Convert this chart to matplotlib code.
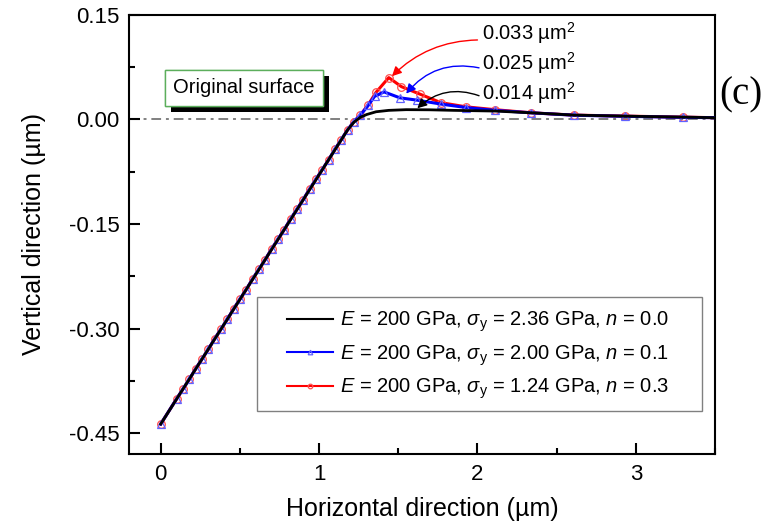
import matplotlib
matplotlib.use("Agg")
import matplotlib.pyplot as plt
from matplotlib import patheffects
from matplotlib.patches import Rectangle
from matplotlib.ticker import MultipleLocator

plt.rcParams['font.family'] = ['Liberation Sans', 'DejaVu Sans']
plt.rcParams['mathtext.fontset'] = 'custom'
plt.rcParams['mathtext.rm'] = 'Liberation Sans'
plt.rcParams['mathtext.it'] = 'Liberation Sans:italic'
plt.rcParams['mathtext.bf'] = 'Liberation Sans:bold'

# ---- data (µm) ----
lin_x = [0.00, 0.10, 0.14, 0.18, 0.22, 0.26, 0.30, 0.34, 0.38, 0.42, 0.46, 0.50,
         0.54, 0.58, 0.62, 0.66, 0.70, 0.74, 0.78, 0.82, 0.86, 0.90, 0.94, 0.98,
         1.02, 1.06, 1.10, 1.14, 1.18, 1.22]
lin_y = [-0.437, -0.401, -0.387, -0.373, -0.358, -0.344, -0.330, -0.315, -0.301,
         -0.287, -0.272, -0.258, -0.244, -0.229, -0.215, -0.201, -0.186, -0.172,
         -0.158, -0.143, -0.129, -0.115, -0.100, -0.086, -0.072, -0.058, -0.043,
         -0.029, -0.015, -0.003]

red_tail_x = [1.26, 1.31, 1.36, 1.44, 1.52, 1.64, 1.77, 1.93, 2.11, 2.34, 2.61, 2.93, 3.30, 3.50]
red_tail_y = [0.006, 0.021, 0.039, 0.060, 0.047, 0.036, 0.024, 0.018, 0.014, 0.0095, 0.0062, 0.0048, 0.0033, 0.0025]

blue_tail_x = [1.26, 1.31, 1.35, 1.41, 1.51, 1.62, 1.77, 1.93, 2.11, 2.34, 2.61, 2.93, 3.30, 3.50]
blue_tail_y = [0.006, 0.020, 0.033, 0.0395, 0.031, 0.0276, 0.022, 0.017, 0.013, 0.0095, 0.006, 0.0045, 0.003, 0.0025]

black_x = [0.00, 1.18, 1.22, 1.26, 1.30, 1.36, 1.44, 1.55, 1.70, 1.85, 2.11, 2.34, 2.61, 2.93, 3.30, 3.50]
black_y = [-0.437, -0.015, -0.004, 0.003, 0.007, 0.011, 0.013, 0.014, 0.0138, 0.013, 0.012, 0.0095, 0.0062, 0.0047, 0.0033, 0.0025]

red_x = lin_x + red_tail_x
red_y = lin_y + red_tail_y
blue_x = lin_x + blue_tail_x
blue_y = lin_y + blue_tail_y

labels = [r'$\it{E}$ = 200 GPa, $\sigma_{\rm y}$ = 2.36 GPa, $\it{n}$ = 0.0',
          r'$\it{E}$ = 200 GPa, $\sigma_{\rm y}$ = 2.00 GPa, $\it{n}$ = 0.1',
          r'$\it{E}$ = 200 GPa, $\sigma_{\rm y}$ = 1.24 GPa, $\it{n}$ = 0.3']
area_labels = ['0.033 µm$^2$', '0.025 µm$^2$', '0.014 µm$^2$']
# annotation targets (data) and text anchors (data)
arrow_targets = [(1.46, 0.062), (1.55, 0.037), (1.62, 0.016)]
arrow_starts = [(2.00, 0.114), (2.01, 0.074), (2.01, 0.034)]
text_pos = [(2.03, 0.124), (2.03, 0.081), (2.03, 0.038)]

fig = plt.figure(figsize=(7.69, 5.31), dpi=100)
ax = fig.add_axes([0.1678, 0.145, 0.762, 0.827])

ax.axhline(0, color='#808080', lw=1.4, ls=(0, (5, 2.5, 1.5, 2.5)), zorder=1)

ax.plot(black_x, black_y, color='black', lw=2.0, zorder=4, label=labels[0])
nb = len(blue_x)
ax.plot(blue_x, blue_y, color='blue', lw=2.2, marker='^', ms=5.5, mfc='none', mec='#6060ff',
        mew=0.9, markevery=list(range(nb - 1)), zorder=3, label=labels[1])
nr = len(red_x)
ax.plot(red_x, red_y, color='red', lw=2.2, marker='o', ms=5.5, mfc='none', mec='#ff5050',
        mew=0.9, markevery=list(range(nr - 1)), zorder=2, label=labels[2])

colors = ['red', 'blue', 'black']
rads = [0.2, 0.3, 0.3]
for lab, tgt, st, tp, c, r in zip(area_labels, arrow_targets, arrow_starts, text_pos, colors, rads):
    ax.annotate('', xy=tgt, xytext=st,
                arrowprops=dict(arrowstyle='-|>', color=c, lw=1.0, mutation_scale=14,
                                shrinkA=0, shrinkB=0, connectionstyle='arc3,rad=%g' % r),
                zorder=6)
    ax.text(tp[0], tp[1], lab, fontsize=14.5, ha='left', va='center', zorder=7)

t = ax.text(0.196, 0.834, 'Original surface', transform=ax.transAxes, fontsize=14.5,
            ha='center', va='center', zorder=8,
            bbox=dict(boxstyle='square,pad=0.42', fc='white', ec='#5cae5c', lw=1.0))
t.get_bbox_patch().set_path_effects([
    patheffects.withSimplePatchShadow(offset=(4.5, -4.5), shadow_rgbFace='black', alpha=1.0),
    patheffects.Normal()])

fig.text(0.935, 0.822, '(c)', family='Liberation Serif', fontsize=28, ha='left', va='center')

ax.set_xlim(-0.2, 3.5)
ax.set_ylim(-0.48, 0.15)
ax.xaxis.set_major_locator(MultipleLocator(1))
ax.xaxis.set_minor_locator(MultipleLocator(0.5))
ax.yaxis.set_minor_locator(MultipleLocator(0.075))
ax.set_yticks([-0.45, -0.30, -0.15, 0.00, 0.15])
ax.set_yticklabels(['-0.45', '-0.30', '-0.15', '0.00', '0.15'])
ax.tick_params(which='both', direction='in', top=False, right=False, labelsize=16, width=1.5)
ax.tick_params(which='major', length=8, pad=7)
ax.tick_params(which='minor', length=4.5)
for s in ax.spines.values():
    s.set_linewidth(1.5)

ax.set_xlabel('Horizontal direction (µm)', fontsize=18, labelpad=9)
ax.set_ylabel('Vertical direction (µm)', fontsize=18, labelpad=16)

# legend frame drawn separately (wide horizontal padding as in the original)
ax.add_patch(Rectangle((0.2184, 0.098), 0.7594, 0.2596, transform=ax.transAxes,
                       fill=True, fc='white', ec='#808080', lw=1.0, zorder=9))
leg = ax.legend(loc='upper left', bbox_to_anchor=(0.2696, 0.329), borderaxespad=0,
                fontsize=14.5, frameon=False,
                handlelength=2.3, handletextpad=0.35, numpoints=1, markerscale=0.6,
                labelspacing=0.45, borderpad=0)
leg.set_zorder(10)
for h in leg.get_lines():
    h.set_linewidth(1.5)

fig.savefig('out.png', dpi=100)
